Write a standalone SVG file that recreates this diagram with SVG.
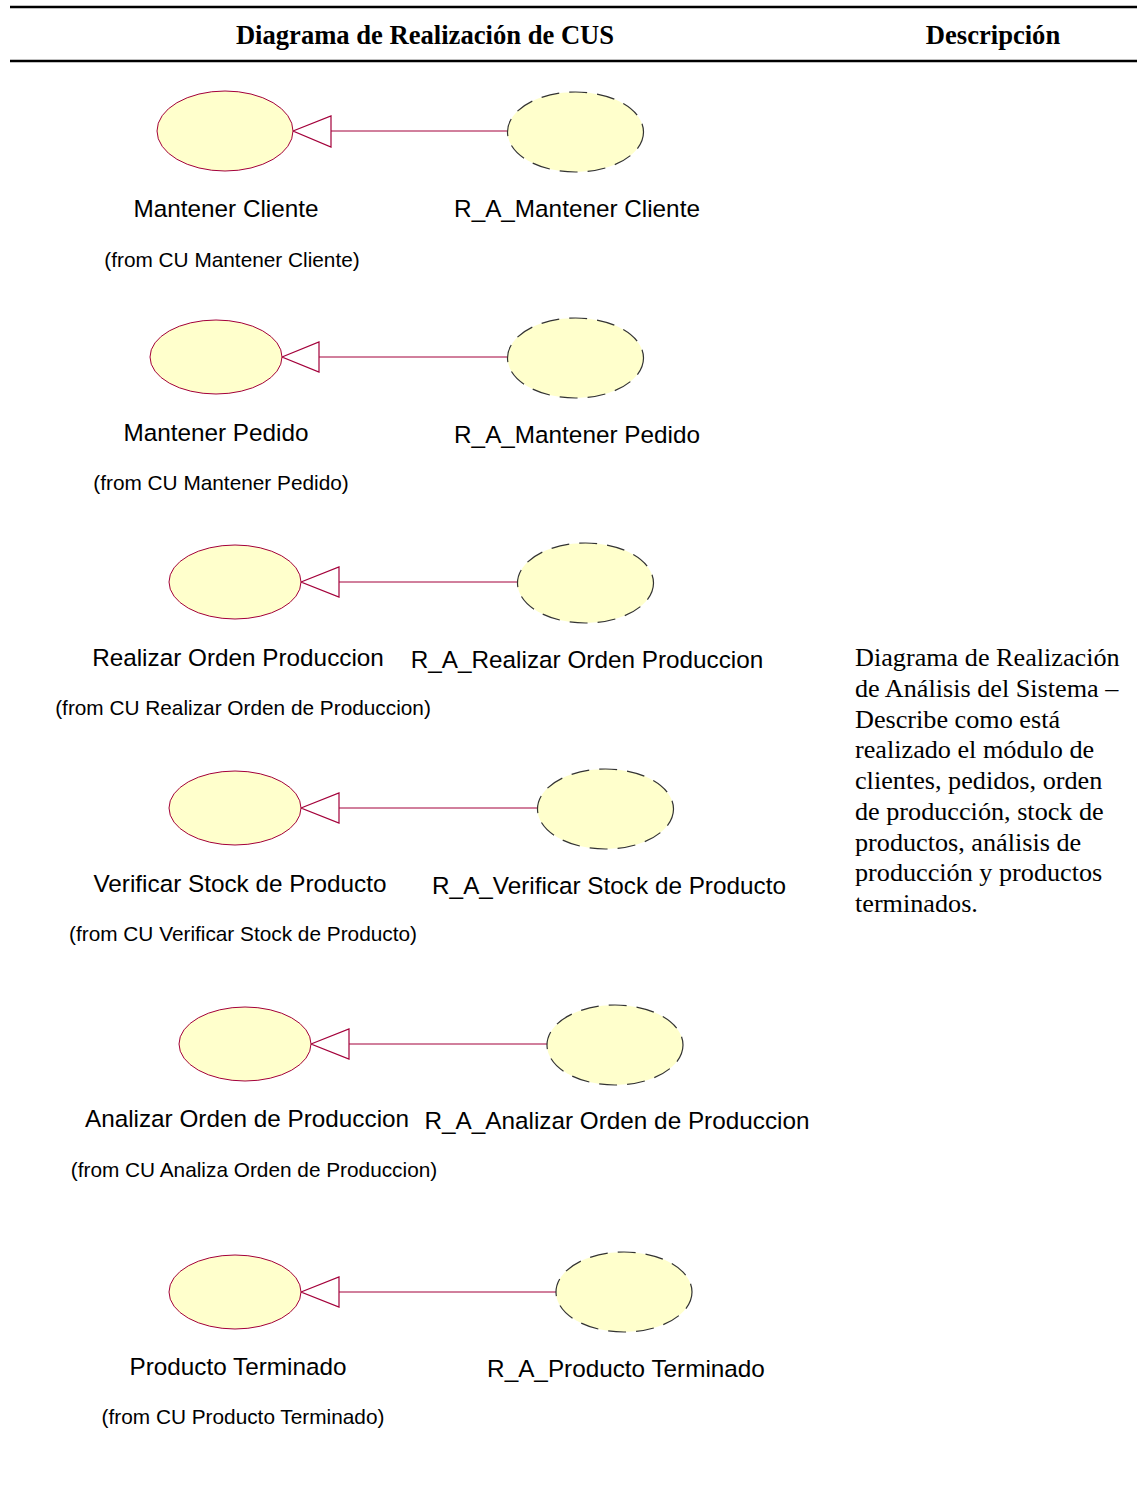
<svg xmlns="http://www.w3.org/2000/svg" width="1137" height="1492" viewBox="0 0 1137 1492">
<defs>
<style>
.uc{fill:#ffffcc;stroke:#a3003a;stroke-width:1}
.ra{fill:#ffffcc;stroke:#333333;stroke-width:1.2;stroke-dasharray:18,10}
.ln{stroke:#a3003a;stroke-width:1;fill:none}
.tri{fill:#ffffff;stroke:#a3003a;stroke-width:1.2}
.nm{font-family:"Liberation Sans",Arial,sans-serif;font-size:24.3px;fill:#000;text-anchor:middle}
.fr{font-family:"Liberation Sans",Arial,sans-serif;font-size:20.8px;fill:#000;text-anchor:middle}
.hd{font-family:"Liberation Serif","Times New Roman",serif;font-size:26.6px;font-weight:bold;fill:#000;text-anchor:middle}
.ds{font-family:"Liberation Serif","Times New Roman",serif;font-size:26.2px;fill:#000}
</style>
</defs>
<rect width="1137" height="1492" fill="#ffffff"/>
<g id="header">
<line x1="10" y1="7" x2="1137" y2="7" stroke="#000" stroke-width="2.5"/>
<line x1="10" y1="61" x2="1137" y2="61" stroke="#000" stroke-width="2.5"/>
<text class="hd" x="425" y="44">Diagrama de Realización de CUS</text>
<text class="hd" x="993" y="44">Descripción</text>
</g>
<g id="connectors">
<line class="ln" x1="331" y1="131" x2="507" y2="131"/>
<polygon class="tri" points="293,131 331,116 331,147"/>
<line class="ln" x1="319" y1="357" x2="507" y2="357"/>
<polygon class="tri" points="282,357 319,342 319,372"/>
<line class="ln" x1="339" y1="582" x2="517" y2="582"/>
<polygon class="tri" points="301,582 339,567 339,597"/>
<line class="ln" x1="339" y1="808" x2="537" y2="808"/>
<polygon class="tri" points="301,808 339,793 339,823"/>
<line class="ln" x1="349" y1="1044" x2="547" y2="1044"/>
<polygon class="tri" points="311,1044 349,1029 349,1059"/>
<line class="ln" x1="339" y1="1292" x2="556" y2="1292"/>
<polygon class="tri" points="301,1292 339,1277 339,1307"/>
</g>
<g id="uc-mantener-cliente">
<ellipse class="uc" cx="225" cy="131" rx="68" ry="40"/>
<text class="nm" x="226" y="217">Mantener Cliente</text>
<text class="fr" x="232" y="267">(from CU Mantener Cliente)</text>
</g>
<g id="ra-mantener-cliente">
<ellipse class="ra" cx="575.5" cy="132" rx="68" ry="40"/>
<text class="nm" x="577" y="217">R_A_Mantener Cliente</text>
</g>
<g id="uc-mantener-pedido">
<ellipse class="uc" cx="216" cy="357" rx="66" ry="37"/>
<text class="nm" x="216" y="441">Mantener Pedido</text>
<text class="fr" x="221" y="490">(from CU Mantener Pedido)</text>
</g>
<g id="ra-mantener-pedido">
<ellipse class="ra" cx="575.5" cy="358" rx="68" ry="40"/>
<text class="nm" x="577" y="443">R_A_Mantener Pedido</text>
</g>
<g id="uc-realizar-orden">
<ellipse class="uc" cx="235" cy="582" rx="66" ry="37"/>
<text class="nm" x="238" y="666">Realizar Orden Produccion</text>
<text class="fr" x="243" y="715">(from CU Realizar Orden de Produccion)</text>
</g>
<g id="ra-realizar-orden">
<ellipse class="ra" cx="585.5" cy="583" rx="68" ry="40"/>
<text class="nm" x="587" y="668">R_A_Realizar Orden Produccion</text>
</g>
<g id="uc-verificar-stock">
<ellipse class="uc" cx="235" cy="808" rx="66" ry="37"/>
<text class="nm" x="240" y="892">Verificar Stock de Producto</text>
<text class="fr" x="243" y="941">(from CU Verificar Stock de Producto)</text>
</g>
<g id="ra-verificar-stock">
<ellipse class="ra" cx="605.5" cy="809" rx="68" ry="40"/>
<text class="nm" x="609" y="894">R_A_Verificar Stock de Producto</text>
</g>
<g id="uc-analizar-orden">
<ellipse class="uc" cx="245" cy="1044" rx="66" ry="37"/>
<text class="nm" x="247" y="1127">Analizar Orden de Produccion</text>
<text class="fr" x="254" y="1177">(from CU Analiza Orden de Produccion)</text>
</g>
<g id="ra-analizar-orden">
<ellipse class="ra" cx="615" cy="1045" rx="68" ry="40"/>
<text class="nm" x="617" y="1129">R_A_Analizar Orden de Produccion</text>
</g>
<g id="uc-producto-terminado">
<ellipse class="uc" cx="235" cy="1292" rx="66" ry="37"/>
<text class="nm" x="238" y="1375">Producto Terminado</text>
<text class="fr" x="243" y="1424">(from CU Producto Terminado)</text>
</g>
<g id="ra-producto-terminado">
<ellipse class="ra" cx="624" cy="1292" rx="68" ry="40"/>
<text class="nm" x="626" y="1377">R_A_Producto Terminado</text>
</g>
<g id="descripcion">
<text class="ds" x="855" y="666">Diagrama de Realización</text>
<text class="ds" x="855" y="697">de Análisis del Sistema –</text>
<text class="ds" x="855" y="728">Describe como está</text>
<text class="ds" x="855" y="758">realizado el módulo de</text>
<text class="ds" x="855" y="789">clientes, pedidos, orden</text>
<text class="ds" x="855" y="820">de producción, stock de</text>
<text class="ds" x="855" y="851">productos, análisis de</text>
<text class="ds" x="855" y="881">producción y productos</text>
<text class="ds" x="855" y="912">terminados.</text>
</g>
</svg>
